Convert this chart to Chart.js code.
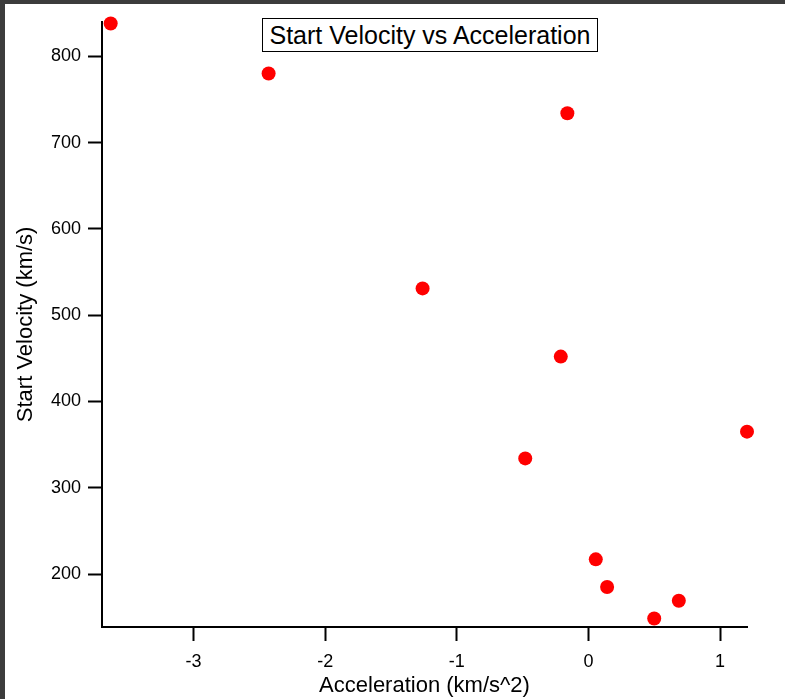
<!DOCTYPE html>
<html>
<head>
<meta charset="utf-8">
<title>Start Velocity vs Acceleration</title>
<script src="https://cdn.jsdelivr.net/npm/chart.js@4"></script>
<style>
    html, body {
        margin: 0;
        padding: 0;
        background: #3c3c3c;
        width: 785px;
        height: 699px;
        overflow: hidden;
    }
    #frame {
        position: absolute;
        left: 5px;
        top: 4px;
        width: 780px;
        height: 695px;
        background: #ffffff;
    }
    #chart {
        position: absolute;
        left: 0;
        top: 0;
    }
    #title-box {
        position: absolute;
        left: 257px;
        top: 14px;
        width: 334px;
        height: 32px;
        border: 1.5px solid #000;
        font-family: "Liberation Sans", Arial, sans-serif;
        font-size: 25px;
        line-height: 32px;
        text-align: center;
        color: #000;
        background: #fff;
        white-space: nowrap;
    }
</style>
</head>
<body>
<div id="frame">
    <canvas id="chart" width="780" height="695"></canvas>
    <div id="title-box">Start Velocity vs Acceleration</div>
</div>
<script>
// Data
const acceleration = [-3.63, -2.43, -0.16, -1.26, -0.21, 1.205, -0.48, 0.056, 0.142, 0.687, 0.50];
const startVelocity = [838, 780, 734, 531, 452, 365, 334, 217, 185, 169, 148.5];

const xTicks = [-3, -2, -1, 0, 1];
const yTicks = [200, 300, 400, 500, 600, 700, 800];

const fontFamily = '"Liberation Sans", Arial, sans-serif';

document.addEventListener('DOMContentLoaded', () => {
    const points = acceleration.map((x, i) => ({ x: x, y: startVelocity[i] }));

    const ctx = document.getElementById('chart').getContext('2d');

    new Chart(ctx, {
        type: 'scatter',
        data: {
            datasets: [{
                data: points,
                backgroundColor: '#ff0000',
                borderWidth: 0,
                pointRadius: 7,
                pointHoverRadius: 7,
                clip: false
            }]
        },
        options: {
            responsive: false,
            animation: false,
            events: [],
            layout: {
                padding: { top: 14, right: 38, left: 0, bottom: 0 }
            },
            plugins: {
                legend: { display: false },
                title: { display: false },
                tooltip: { enabled: false }
            },
            scales: {
                x: {
                    type: 'linear',
                    min: -3.696,
                    max: 1.205,
                    afterFit: scale => { scale.height = 72; },
                    afterBuildTicks: scale => {
                        scale.ticks = xTicks.map(v => ({ value: v }));
                    },
                    border: { display: true, color: '#000', width: 2 },
                    grid: {
                        drawOnChartArea: false,
                        drawTicks: true,
                        tickLength: 14,
                        tickWidth: 2,
                        tickColor: '#000'
                    },
                    ticks: {
                        color: '#000',
                        padding: 10,
                        maxRotation: 0,
                        font: { family: fontFamily, size: 18 }
                    },
                    title: {
                        display: true,
                        text: 'Acceleration (km/s^2)',
                        color: '#000',
                        padding: { top: 0, bottom: 0 },
                        font: { family: fontFamily, size: 22 }
                    }
                },
                y: {
                    type: 'linear',
                    min: 138.6,
                    max: 840,
                    afterFit: scale => { scale.width = 97; },
                    afterBuildTicks: scale => {
                        scale.ticks = yTicks.map(v => ({ value: v }));
                    },
                    border: { display: true, color: '#000', width: 2 },
                    grid: {
                        drawOnChartArea: false,
                        drawTicks: true,
                        tickLength: 14,
                        tickWidth: 2,
                        tickColor: '#000'
                    },
                    ticks: {
                        color: '#000',
                        padding: 7,
                        font: { family: fontFamily, size: 18 }
                    },
                    title: {
                        display: true,
                        text: 'Start Velocity (km/s)',
                        color: '#000',
                        padding: { top: 8, bottom: 0 },
                        font: { family: fontFamily, size: 22 }
                    }
                }
            }
        }
    });
});
</script>
</body>
</html>
